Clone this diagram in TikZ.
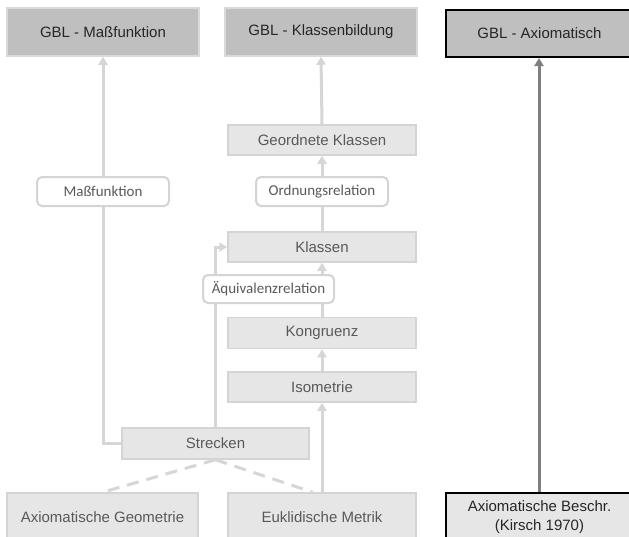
\documentclass[tikz,border=0pt]{standalone}
\usepackage{fontspec}
\setmainfont{Liberation Sans}
\newfontfamily\lblfont{Carlito}
\usetikzlibrary{arrows.meta}
\definecolor{topfill}{HTML}{BFBFBF}
\definecolor{topline}{HTML}{D9D9D9}
\definecolor{boxfill}{HTML}{E6E6E6}
\definecolor{boxline}{HTML}{D4D4D4}
\definecolor{conn}{HTML}{D6D6D6}
\definecolor{darkconn}{HTML}{7F7F7F}
\definecolor{toptext}{HTML}{262626}
\definecolor{boxtext}{HTML}{595959}
\begin{document}
\begin{tikzpicture}[x=1pt,y=-1pt,
  topbox/.style={rectangle,inner sep=0pt,minimum width=192pt,minimum height=48pt,
    fill=topfill,draw=topline,line width=1.5pt,text=toptext,
    font=\fontsize{15}{18}\selectfont},
  axbox/.style={rectangle,inner sep=0pt,minimum width=210pt,minimum height=47pt,
    draw=black,line width=2pt,text=toptext,font=\fontsize{15}{19}\selectfont,align=center},
  colbox/.style={rectangle,inner sep=0pt,minimum width=188pt,minimum height=30pt,
    fill=boxfill,draw=boxline,line width=1.5pt,text=boxtext,
    font=\fontsize{15}{18}\selectfont},
  lblbox/.style={rectangle,rounded corners=5pt,inner sep=0pt,minimum width=132pt,
    minimum height=29pt,fill=white,draw=boxline,line width=2pt,text=boxtext,
    font=\lblfont\fontsize{15}{18}\selectfont},
  conline/.style={draw=conn,line width=3pt},
  conarrow/.style={conline,-{Triangle[width=9pt,length=8pt]}},
  dasharrow/.style={draw=darkconn,line width=3pt,-{Triangle[width=9pt,length=8pt]}},
  dashline/.style={draw=conn,line width=3pt,dash pattern=on 12pt off 8pt}
]
\useasboundingbox (0,0) rectangle (629,536);
\clip (0,0) rectangle (629,536);

% top row
\node[topbox] (gblM) at (103,32) {GBL - Maßfunktion};
\node[topbox] (gblK) at (321,32) {GBL - Klassenbildung};
\node[axbox,fill=topfill] (gblA) at (551,33.5) {\hspace*{-23pt}GBL - Axiomatisch};

% column boxes
\node[colbox] (geo) at (322,140) {Geordnete Klassen};
\node[colbox] (klassen) at (322,247) {Klassen};
\node[colbox,minimum height=31pt] (kong) at (322,333) {Kongruenz};
\node[colbox] (iso) at (322,387) {Isometrie};
\node[colbox,minimum width=187pt,minimum height=31pt] (strecken) at (215.5,443.5) {Strecken};

% bottom row
\node[colbox,minimum width=191pt,minimum height=48pt] (axgeo) at (102.5,517) {Axiomatische Geometrie};
\node[colbox,minimum height=48pt] (eukl) at (322,517) {Euklidische Metrik};
\node[axbox,fill=boxfill,minimum height=48pt] (axb) at (551,517) {\hspace*{-23pt}Axiomatische Beschr.\\\hspace*{-23pt}(Kirsch 1970)};

\coordinate (ekend) at ([xshift=-9pt]eukl.north);
\coordinate (sbend) at (103,443.5);
\coordinate (kbend) at (215,247);
\coordinate (axtop) at ([xshift=-12pt]gblA.south);
\coordinate (axbot) at ([xshift=-12pt]axb.north);

% connectors
\draw[conarrow] (strecken.west) -- (sbend) -- (gblM.south);
\draw[conarrow] ([xshift=-0.5pt]strecken.north) -- (kbend) -- (klassen.west);
\draw[conarrow] (eukl.north) -- (iso.south);
\draw[conarrow] (iso.north) -- (kong.south);
\draw[conarrow] (kong.north) -- (klassen.south);
\draw[conarrow] (klassen.north) -- (geo.south);
\draw[conarrow] (geo.north) -- (gblK.south);
\draw[dasharrow] (axbot) -- (axtop);
\draw[dashline] (strecken.south) -- (axgeo.north);
\draw[dashline] (strecken.south) -- (ekend);

% labels on connectors
\node[lblbox] (mass) at (103,191.5) {Maßfunktion};
\node[lblbox] (ord) at (322,191.5) {Ordnungsrelation};
\node[lblbox,minimum width=131pt,minimum height=28pt] (aeq) at (268.5,289) {Äquivalenzrelation};
\end{tikzpicture}
\end{document}
